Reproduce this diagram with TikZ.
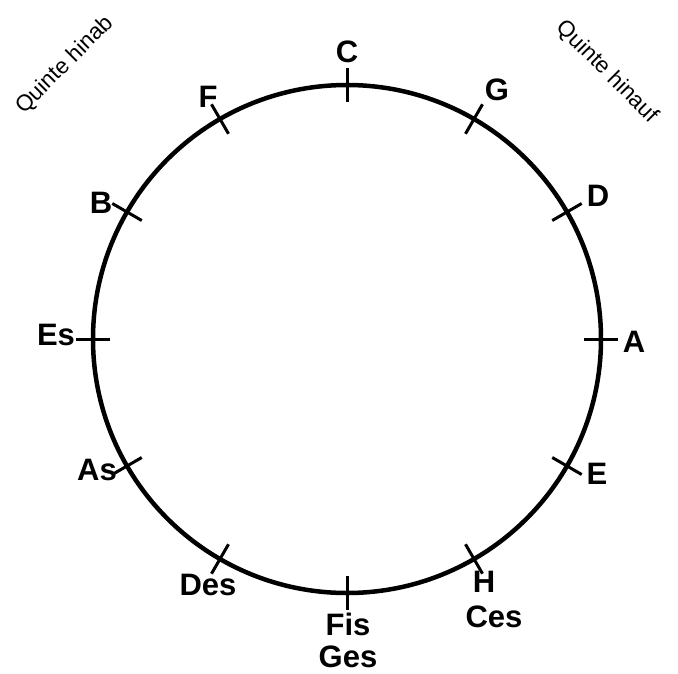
\documentclass[tikz,border=0pt]{standalone}
\usepackage{fontspec}
\setmainfont{Liberation Sans}
\usetikzlibrary{calc}
\begin{document}
\begin{tikzpicture}[x=1pt,y=-1pt,
  lbl/.style={font=\fontsize{31}{31}\selectfont\bfseries, inner sep=0pt},
  qlbl/.style={font=\fontsize{22.5}{22.5}\selectfont, inner sep=0pt},
  tickline/.style={line width=3pt}]
\useasboundingbox (0,0) rectangle (678,673);
\coordinate (ctr) at (347,339);
\draw[line width=4.5pt] (ctr) circle[radius=254];
\foreach \k in {0,...,11}{
  \draw[tickline] ($(ctr)+({90-30*\k}:-237)$) -- ($(ctr)+({90-30*\k}:-271)$);
}
\node[lbl] (c) at (347,52) {C};
\node[lbl] (g) at (497,90) {G};
\node[lbl] (d) at (598,196) {D};
\node[lbl] (a) at (634,342) {A};
\node[lbl] (e) at (597,474) {E};
\node[lbl] (h) at (484,582) {H};
\node[lbl] (ces) at (494,617) {Ces};
\node[lbl] (fis) at (348,624) {Fis};
\node[lbl] (ges) at (348,657) {Ges};
\node[lbl] (des) at (208,585) {Des};
\node[lbl] (as) at (97,470) {As};
\node[lbl] (es) at (56,335) {Es};
\node[lbl] (b) at (101,203) {B};
\node[lbl] (f) at (208,97) {F};
\node[qlbl, rotate=45] (qab) at (65,65) {Quinte hinab};
\node[qlbl, rotate=-45] (qauf) at (607,72) {Quinte hinauf};
\end{tikzpicture}
\end{document}
